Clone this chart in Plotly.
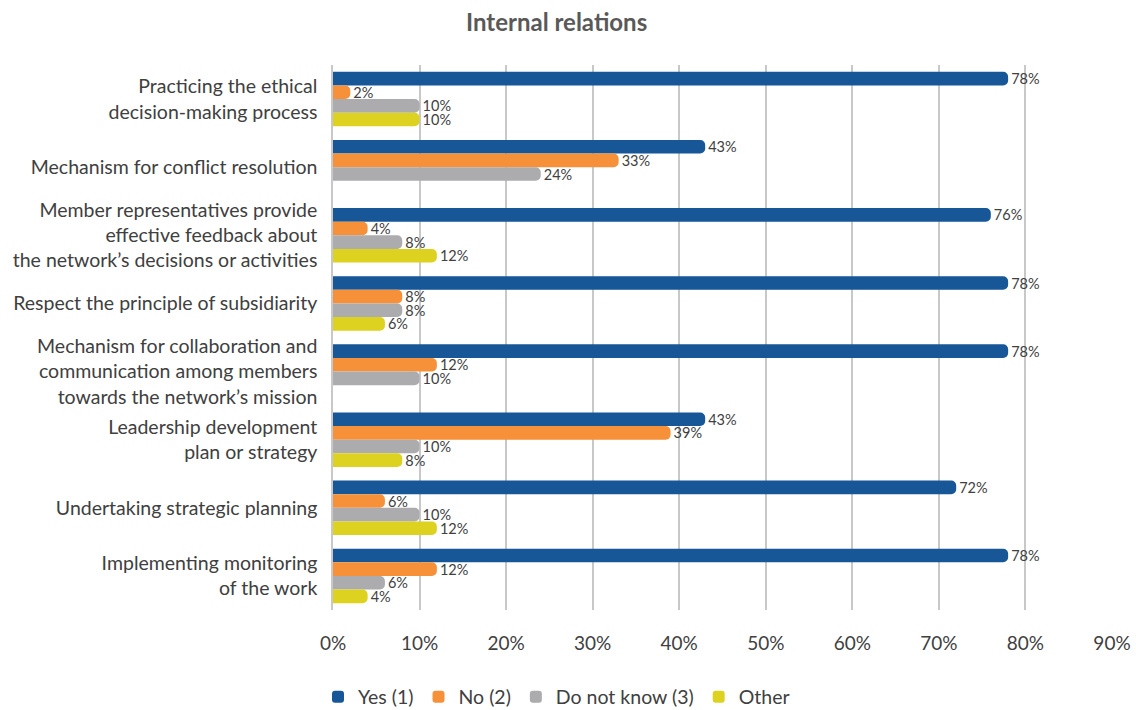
import plotly.graph_objects as go

categories = [
    "Practicing the ethical<br>decision-making process",
    "Mechanism for conflict resolution",
    "Member representatives provide<br>effective feedback about<br>the network’s decisions or activities",
    "Respect the principle of subsidiarity",
    "Mechanism for collaboration and<br>communication among members<br>towards the network’s mission",
    "Leadership development<br>plan or strategy",
    "Undertaking strategic planning",
    "Implementing monitoring<br>of the work",
]

yes_vals = [78, 43, 76, 78, 78, 43, 72, 78]
no_vals = [2, 33, 4, 8, 12, 39, 6, 12]
dnk_vals = [10, 24, 8, 8, 10, 10, 10, 6]
other_vals = [10, None, 12, 6, None, 8, 12, 4]

series = [
    ("Yes (1)", yes_vals, "#175798"),
    ("No (2)", no_vals, "#f6913a"),
    ("Do not know (3)", dnk_vals, "#acacaf"),
    ("Other", other_vals, "#dcd21f"),
]

x_ticks = [0, 10, 20, 30, 40, 50, 60, 70, 80, 90]

fig = go.Figure()
for name, vals, color in series:
    fig.add_trace(go.Bar(
        name=name,
        y=categories,
        x=vals,
        orientation="h",
        marker=dict(color=color, line=dict(width=0)),
        text=[f"{v}%" if v is not None else "" for v in vals],
        textposition="outside",
        constraintext="none",
        cliponaxis=False,
        textfont=dict(size=14.5, color="#404040"),
    ))

fig.update_layout(
    width=1136,
    height=710,
    barmode="group",
    bargap=0.2,
    bargroupgap=0,
    barcornerradius=5,
    paper_bgcolor="white",
    plot_bgcolor="white",
    font=dict(family="Lato, Open Sans, sans-serif", color="#404040"),
    title=dict(
        text="<b>Internal relations</b>",
        x=0.49, xanchor="center", y=0.968, yanchor="middle",
        font=dict(size=24, color="#595959"),
    ),
    margin=dict(l=333, r=24, t=65, b=100, autoexpand=False),
    xaxis=dict(
        range=[0, 90],
        tickvals=x_ticks,
        ticktext=[f"{t}%" for t in x_ticks],
        showgrid=True,
        gridcolor="#c8c8c8",
        gridwidth=1.5,
        zeroline=False,
        showline=False,
        automargin=False,
        tickfont=dict(size=19, color="#404040"),
        ticks="",
        ticklabelstandoff=20,
    ),
    yaxis=dict(
        autorange="reversed",
        showline=True,
        linecolor="#c8c8c8",
        linewidth=1.5,
        ticks="",
        automargin=False,
        tickfont=dict(size=19.5, color="#404040"),
        ticklabelstandoff=10,
    ),
    legend=dict(
        orientation="h",
        xref="container", yref="container",
        x=318 / 1136, xanchor="left",
        y=13 / 710, yanchor="middle",
        font=dict(size=19.5, color="#404040"),
        traceorder="normal",
        itemwidth=30,
    ),
)

fig.write_html("out.html")
